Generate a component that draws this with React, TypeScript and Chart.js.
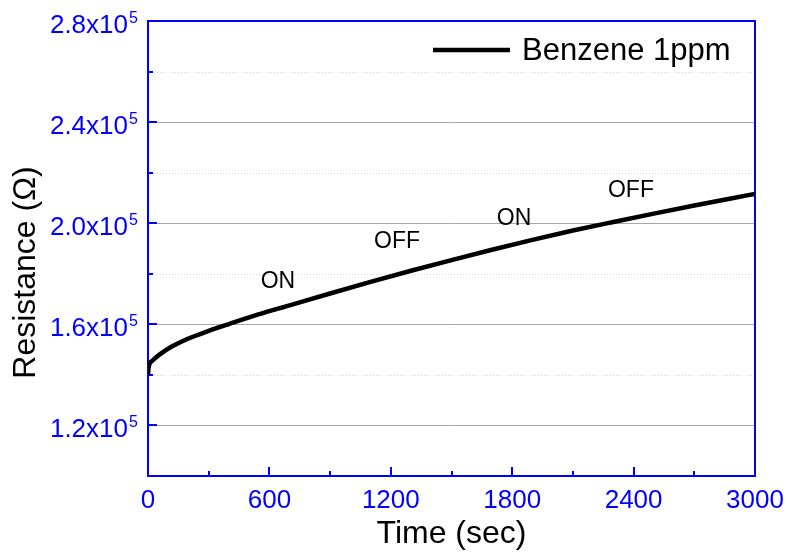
import React, { useEffect, useRef } from "react";
import { Chart, registerables } from "chart.js";

Chart.register(...registerables);

const times = [0, 3, 20, 60, 120, 200, 300, 400, 550, 700, 900, 1100, 1300, 1500, 1700, 1900, 2100, 2300, 2500, 2700, 2900, 3000];
const resistance = [140000, 143000, 145500, 148200, 151300, 154400, 157400, 160100, 164000, 167500, 172200, 176800, 181200, 185400, 189500, 193400, 197100, 200500, 203800, 207000, 210100, 211600];

const seriesName = "Benzene 1ppm";

const xMajorTicks = [0, 600, 1200, 1800, 2400, 3000];
const xMinorTicks = [300, 900, 1500, 2100, 2700];
const yMajorTicks = [120000, 160000, 200000, 240000, 280000];
const yTickLabels = ["1.2x10", "1.6x10", "2.0x10", "2.4x10", "2.8x10"];
const yTickExponent = "5";
const yMinorTicks = [140000, 180000, 220000, 260000];

const annotTexts = ["ON", "OFF", "ON", "OFF"];
const annotTimes = [642, 1231, 1809, 2387];
const annotValues = [177000, 192600, 202000, 212700];

const xTitle = "Time (sec)";
const yTitle = "Resistance (\u03A9)";

const FONT = "'Liberation Sans', Arial, sans-serif";
const BLUE = "#0000ff";

const decorPlugin = {
  id: "decor",
  beforeDatasetsDraw(chart: any) {
    const { ctx, chartArea: a, scales } = chart;
    const x = scales.x;
    const y = scales.y;
    ctx.save();
    ctx.strokeStyle = "#a8a8a8";
    ctx.lineWidth = 1;
    yMajorTicks.forEach((v) => {
      if (v >= 280000) return;
      const py = Math.round(y.getPixelForValue(v)) + 0.5;
      ctx.beginPath();
      ctx.moveTo(a.left, py);
      ctx.lineTo(a.right, py);
      ctx.stroke();
    });
    ctx.strokeStyle = "#d4d4d4";
    ctx.setLineDash([1, 2]);
    yMinorTicks.forEach((v) => {
      const py = Math.round(y.getPixelForValue(v)) + 0.5;
      ctx.beginPath();
      ctx.moveTo(a.left, py);
      ctx.lineTo(a.right, py);
      ctx.stroke();
    });
    ctx.setLineDash([]);
    ctx.strokeStyle = BLUE;
    ctx.lineWidth = 2;
    ctx.strokeRect(a.left, a.top, a.right - a.left, a.bottom - a.top);
    yMajorTicks.forEach((v) => {
      const py = Math.round(y.getPixelForValue(v));
      ctx.beginPath();
      ctx.moveTo(a.left, py);
      ctx.lineTo(a.left + 9, py);
      ctx.stroke();
    });
    yMinorTicks.forEach((v) => {
      const py = Math.round(y.getPixelForValue(v));
      ctx.beginPath();
      ctx.moveTo(a.left, py);
      ctx.lineTo(a.left + 5, py);
      ctx.stroke();
    });
    xMajorTicks.forEach((v) => {
      const px = Math.round(x.getPixelForValue(v));
      ctx.beginPath();
      ctx.moveTo(px, a.bottom);
      ctx.lineTo(px, a.bottom - 9);
      ctx.stroke();
    });
    xMinorTicks.forEach((v) => {
      const px = Math.round(x.getPixelForValue(v));
      ctx.beginPath();
      ctx.moveTo(px, a.bottom);
      ctx.lineTo(px, a.bottom - 5);
      ctx.stroke();
    });
    ctx.restore();
  },
  afterDraw(chart: any) {
    const { ctx, chartArea: a, scales } = chart;
    const x = scales.x;
    const y = scales.y;
    ctx.save();
    ctx.fillStyle = BLUE;
    ctx.font = `26px ${FONT}`;
    ctx.textAlign = "center";
    ctx.textBaseline = "alphabetic";
    xMajorTicks.forEach((v) => {
      ctx.fillText(String(v), x.getPixelForValue(v), a.bottom + 32);
    });
    yMajorTicks.forEach((v, i) => {
      const py = y.getPixelForValue(v);
      ctx.font = `26px ${FONT}`;
      ctx.textAlign = "right";
      ctx.textBaseline = "alphabetic";
      ctx.fillText(yTickLabels[i], a.left - 20, py + 12);
      ctx.font = `16px ${FONT}`;
      ctx.textAlign = "left";
      ctx.fillText(yTickExponent, a.left - 19, py + 2);
    });
    ctx.fillStyle = "#000";
    ctx.font = `32px ${FONT}`;
    ctx.textAlign = "center";
    ctx.textBaseline = "alphabetic";
    ctx.fillText(xTitle, (a.left + a.right) / 2, 543);
    ctx.save();
    ctx.translate(35, (a.top + a.bottom) / 2 + 24);
    ctx.rotate(-Math.PI / 2);
    ctx.fillText(yTitle, 0, 0);
    ctx.restore();
    ctx.strokeStyle = "#000";
    ctx.lineWidth = 4.5;
    ctx.beginPath();
    ctx.moveTo(433, 50);
    ctx.lineTo(510, 50);
    ctx.stroke();
    ctx.font = `31px ${FONT}`;
    ctx.textAlign = "left";
    ctx.fillText(seriesName, 522, 60);
    ctx.font = `23px ${FONT}`;
    ctx.textAlign = "center";
    ctx.textBaseline = "middle";
    annotTexts.forEach((t, i) => {
      ctx.fillText(t, x.getPixelForValue(annotTimes[i]), y.getPixelForValue(annotValues[i]));
    });
    ctx.restore();
  },
};

export default function App() {
  const ref = useRef<HTMLCanvasElement | null>(null);
  useEffect(() => {
    document.body.style.margin = "0";
    const canvas = ref.current;
    if (!canvas) return;
    const chart = new Chart(canvas, {
      type: "line",
      data: {
        datasets: [
          {
            label: seriesName,
            data: times.map((t, i) => ({ x: t, y: resistance[i] })),
            borderColor: "#000",
            borderWidth: 4.5,
            pointRadius: 0,
            fill: false,
            cubicInterpolationMode: "monotone",
          },
        ],
      },
      options: {
        responsive: false,
        animation: false,
        layout: { padding: { top: 21, right: 34, left: 0, bottom: 0 } },
        plugins: { legend: { display: false }, tooltip: { enabled: false } },
        scales: {
          x: {
            type: "linear",
            min: 0,
            max: 3000,
            ticks: { display: false },
            grid: { display: false },
            border: { display: false },
            afterFit: (s: any) => {
              s.height = 80;
            },
          },
          y: {
            type: "linear",
            min: 100000,
            max: 280000,
            ticks: { display: false },
            grid: { display: false },
            border: { display: false },
            afterFit: (s: any) => {
              s.width = 148;
            },
          },
        },
      },
      plugins: [decorPlugin],
    });
    return () => chart.destroy();
  }, []);
  return (
    <div style={{ width: 789, height: 556, background: "#fff" }}>
      <canvas ref={ref} width={789} height={556} />
    </div>
  );
}
